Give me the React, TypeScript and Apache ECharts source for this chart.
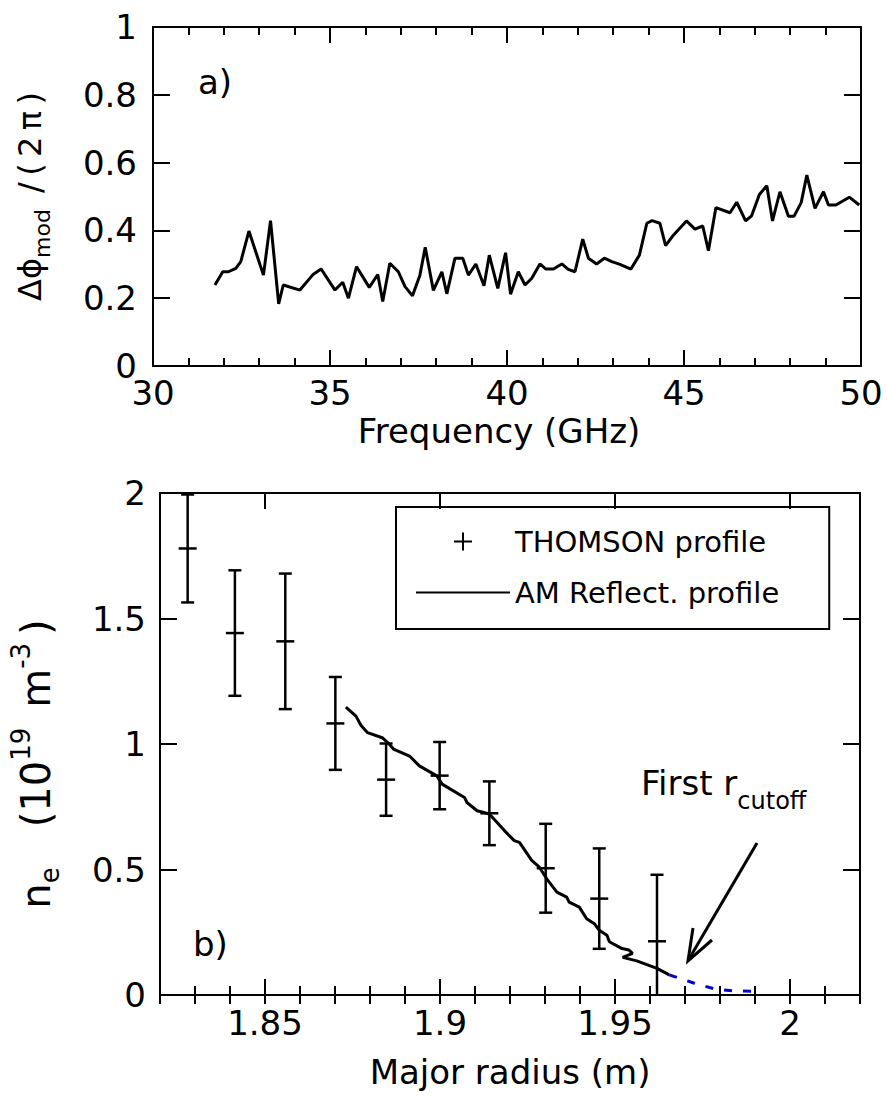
import React, { useEffect, useRef } from "react";
import * as echarts from "echarts";

// ---- Panel a) : modulated phase vs frequency ----
const freqGHz = [
  31.75, 31.97, 32.13, 32.34, 32.48, 32.71, 33.12, 33.32, 33.55, 33.68, 34.15, 34.53, 34.75,
  35.14, 35.36, 35.52, 35.75, 36.11, 36.35, 36.49, 36.69, 36.93, 37.12, 37.33, 37.54, 37.69,
  37.92, 38.16, 38.3, 38.53, 38.75, 38.91, 39.12, 39.35, 39.5, 39.74, 39.96, 40.1, 40.32,
  40.51, 40.7, 40.93, 41.1, 41.31, 41.55, 41.73, 41.92, 42.14, 42.3, 42.53, 42.75, 42.96,
  43.19, 43.5, 43.74, 43.95, 44.1, 44.32, 44.48, 44.7, 45.07, 45.31, 45.53, 45.69, 45.9,
  46.3, 46.49, 46.74, 46.91, 47.13, 47.34, 47.5, 47.71, 47.95, 48.11, 48.31, 48.47, 48.7,
  48.94, 49.08, 49.29, 49.67, 49.95,
];
const phaseMod = [
  0.239, 0.278, 0.278, 0.288, 0.308, 0.398, 0.268, 0.429, 0.183, 0.239, 0.224, 0.271, 0.286,
  0.224, 0.247, 0.2, 0.293, 0.232, 0.27, 0.19, 0.303, 0.278, 0.234, 0.207, 0.268, 0.35,
  0.223, 0.278, 0.213, 0.318, 0.318, 0.268, 0.301, 0.237, 0.327, 0.229, 0.334, 0.212, 0.278,
  0.239, 0.259, 0.301, 0.286, 0.286, 0.301, 0.285, 0.278, 0.374, 0.318, 0.301, 0.318, 0.308,
  0.3, 0.286, 0.327, 0.421, 0.429, 0.421, 0.355, 0.386, 0.428, 0.404, 0.413, 0.34, 0.467,
  0.452, 0.483, 0.428, 0.443, 0.506, 0.532, 0.428, 0.514, 0.442, 0.442, 0.482, 0.563, 0.465,
  0.514, 0.475, 0.475, 0.498, 0.475,
];
const freqLabelTicks = [30, 35, 40, 45, 50];

// ---- Panel b) : density profiles ----
const thomsonR = [1.8279, 1.8414, 1.8558, 1.8701, 1.8846, 1.8999, 1.9141, 1.9302, 1.9455, 1.962];
const thomsonNe = [1.779, 1.442, 1.409, 1.082, 0.858, 0.874, 0.724, 0.505, 0.384, 0.214];
const thomsonErr = [0.215, 0.25, 0.27, 0.185, 0.144, 0.134, 0.127, 0.177, 0.2, 0.265];

const reflR = [
  1.8731, 1.876, 1.8774, 1.8793, 1.8835, 1.8854, 1.8867, 1.8913, 1.8941, 1.8991, 1.9006,
  1.907, 1.9077, 1.9106, 1.9141, 1.9184, 1.9212, 1.9227, 1.9262, 1.9284, 1.9305, 1.9334,
  1.9362, 1.9369, 1.9398, 1.9419, 1.9441, 1.9455, 1.9477, 1.9484, 1.952, 1.954, 1.955,
  1.9522, 1.9562, 1.962, 1.9655,
];
const reflNe = [
  1.147, 1.111, 1.075, 1.045, 1.025, 1.001, 0.98, 0.952, 0.913, 0.873, 0.84, 0.787, 0.767,
  0.734, 0.721, 0.655, 0.615, 0.608, 0.536, 0.509, 0.463, 0.41, 0.39, 0.37, 0.35, 0.304,
  0.284, 0.258, 0.238, 0.212, 0.185, 0.179, 0.166, 0.15, 0.136, 0.106, 0.08,
];
const cutoffR = [1.9655, 1.9725, 1.9785, 1.984, 1.991];
const cutoffNe = [0.08, 0.048, 0.024, 0.016, 0.015];
const radiusLabelTicks = [1.85, 1.9, 1.95, 2];
const radiusMinorTicks: number[] = [];
for (let i = 182; i <= 202; i++) radiusMinorTicks.push(i / 100);

const FONT = "'DejaVu Sans', 'Liberation Sans', sans-serif";
const BLACK = "#000";

const lineSt = { color: BLACK, width: 2 };

function baseAxis(extra: any) {
  return {
    type: "value",
    axisLine: { show: true, onZero: false, lineStyle: lineSt },
    splitLine: { show: false },
    minorSplitLine: { show: false },
    ...extra,
  };
}

export default function App() {
  const ref = useRef<HTMLDivElement>(null);

  useEffect(() => {
    if (!ref.current) return;
    const chart = echarts.init(ref.current, undefined, { renderer: "svg" });

    const labelStyle = { color: BLACK, fontSize: 34, fontFamily: FONT };

    const option: any = {
      animation: false,
      backgroundColor: "#fff",
      grid: [
        { left: 153, top: 27, width: 708, height: 339, containLabel: false },
        { left: 153, top: 493, width: 707, height: 502, containLabel: false },
      ],
      legend: {
        orient: "vertical",
        left: 396,
        top: 507,
        padding: [20, 50, 22, 20],
        borderColor: BLACK,
        borderWidth: 2,
        itemWidth: 94,
        itemHeight: 18,
        itemGap: 22,
        itemTextGap: 9,
        textStyle: { color: BLACK, fontSize: 29, fontFamily: FONT },
        data: [
          { name: "THOMSON profile", icon: "path://M0,8H18V10H0Z M8,0H10V18H8Z" },
          { name: "AM Reflect. profile", icon: "path://M0,0H94V2H0Z" },
        ],
      },
      xAxis: [
        baseAxis({
          gridIndex: 0,
          min: 30,
          max: 50,
          interval: 5,
          position: "bottom",
          axisTick: { show: true, inside: true, length: 16, lineStyle: lineSt },
          minorTick: { show: true, splitNumber: 5, length: 8, lineStyle: lineSt },
          axisLabel: { ...labelStyle, margin: 10, customValues: freqLabelTicks },
          name: "Frequency (GHz)",
          nameLocation: "middle",
          nameGap: 48,
          nameTextStyle: { ...labelStyle, padding: [0, 16, 0, 0] },
        }),
        baseAxis({
          gridIndex: 0,
          min: 30,
          max: 50,
          interval: 5,
          position: "top",
          axisTick: { show: true, inside: true, length: 16, lineStyle: lineSt },
          minorTick: { show: true, splitNumber: 5, length: 8, lineStyle: lineSt },
          axisLabel: { show: false },
        }),
        baseAxis({
          gridIndex: 1,
          min: 1.82,
          max: 2.02,
          position: "bottom",
          axisTick: { show: true, inside: true, length: 16, lineStyle: lineSt, customValues: radiusLabelTicks },
          axisLabel: { ...labelStyle, margin: 11, customValues: radiusLabelTicks },
          name: "Major radius (m)",
          nameLocation: "middle",
          nameGap: 60,
          nameTextStyle: { ...labelStyle },
        }),
        baseAxis({
          gridIndex: 1,
          min: 1.82,
          max: 2.02,
          position: "bottom",
          axisLine: { show: false },
          axisTick: { show: true, inside: true, length: 9, lineStyle: lineSt, customValues: radiusMinorTicks },
          axisLabel: { show: false },
        }),
        baseAxis({
          gridIndex: 1,
          min: 1.82,
          max: 2.02,
          position: "top",
          axisTick: { show: true, inside: true, length: 16, lineStyle: lineSt, customValues: radiusLabelTicks },
          axisLabel: { show: false },
        }),
        baseAxis({
          gridIndex: 1,
          min: 1.82,
          max: 2.02,
          position: "top",
          axisLine: { show: false },
          axisTick: { show: true, inside: true, length: 9, lineStyle: lineSt, customValues: radiusMinorTicks },
          axisLabel: { show: false },
        }),
      ],
      yAxis: [
        baseAxis({
          gridIndex: 0,
          min: 0,
          max: 1,
          interval: 0.2,
          position: "left",
          axisTick: { show: true, inside: true, length: 17, lineStyle: lineSt },
          axisLabel: { ...labelStyle, margin: 16 },
          name: "Δϕ{sub|mod}\u2002/\u2009(\u20092\u2009π\u2009)",
          nameLocation: "middle",
          nameRotate: 90,
          nameGap: 100,
          nameTextStyle: {
            ...labelStyle,
            fontSize: 32,
            rich: {
              sub: { fontSize: 22, fontFamily: FONT, color: BLACK, padding: [24, 0, 0, 0] },
            },
          },
        }),
        baseAxis({
          gridIndex: 0,
          min: 0,
          max: 1,
          interval: 0.2,
          position: "right",
          axisTick: { show: true, inside: true, length: 17, lineStyle: lineSt },
          axisLabel: { show: false },
        }),
        baseAxis({
          gridIndex: 1,
          min: 0,
          max: 2,
          interval: 0.5,
          position: "left",
          axisTick: { show: true, inside: true, length: 17, lineStyle: lineSt },
          axisLabel: { ...labelStyle, margin: 14 },
          name: "n{sub|e}\u2003(10{sup|19}\u2002m{sup|-3}\u2009)",
          nameLocation: "middle",
          nameRotate: 90,
          nameGap: 96,
          nameTextStyle: {
            ...labelStyle,
            fontSize: 40,
            padding: [0, 40, 0, 0],
            rich: {
              sub: { fontSize: 26, fontFamily: FONT, color: BLACK, padding: [28, 0, 0, 0] },
              sup: { fontSize: 26, fontFamily: FONT, color: BLACK, padding: [0, 0, 30, 0] },
            },
          },
        }),
        baseAxis({
          gridIndex: 1,
          min: 0,
          max: 2,
          interval: 0.5,
          position: "right",
          axisTick: { show: true, inside: true, length: 17, lineStyle: lineSt },
          axisLabel: { show: false },
        }),
      ],
      series: [
        {
          name: "phase",
          type: "line",
          xAxisIndex: 0,
          yAxisIndex: 0,
          symbol: "none",
          lineStyle: { color: BLACK, width: 3 },
          data: freqGHz.map((f, i) => [f, phaseMod[i]]),
        },
        {
          name: "THOMSON profile",
          type: "custom",
          xAxisIndex: 2,
          yAxisIndex: 2,
          itemStyle: { color: BLACK },
          data: thomsonR.map((r, i) => [r, thomsonNe[i], thomsonErr[i]]),
          renderItem: (params: any, api: any) => {
            const x = api.value(0);
            const y = api.value(1);
            const e = api.value(2);
            const hi = Math.min(y + e, 2);
            const lo = Math.max(y - e, 0);
            const pc = api.coord([x, y]);
            const pt = api.coord([x, hi]);
            const pb = api.coord([x, lo]);
            const st = { stroke: BLACK, lineWidth: 2.5 };
            const children: any[] = [
              { type: "line", shape: { x1: pc[0], y1: pt[1], x2: pc[0], y2: pb[1] }, style: st },
              { type: "line", shape: { x1: pc[0] - 9, y1: pc[1], x2: pc[0] + 9, y2: pc[1] }, style: st },
            ];
            if (y + e <= 2) children.push({ type: "line", shape: { x1: pc[0] - 6.5, y1: pt[1], x2: pc[0] + 6.5, y2: pt[1] }, style: st });
            if (y - e >= 0) children.push({ type: "line", shape: { x1: pc[0] - 6.5, y1: pb[1], x2: pc[0] + 6.5, y2: pb[1] }, style: st });
            return { type: "group", children };
          },
        },
        {
          name: "AM Reflect. profile",
          type: "line",
          xAxisIndex: 2,
          yAxisIndex: 2,
          symbol: "none",
          color: BLACK,
          lineStyle: { color: BLACK, width: 3 },
          data: reflR.map((r, i) => [r, reflNe[i]]),
        },
        {
          name: "cutoff",
          type: "line",
          xAxisIndex: 2,
          yAxisIndex: 2,
          symbol: "none",
          lineStyle: { color: "#0000cc", width: 3, type: [8, 11] },
          data: cutoffR.map((r, i) => [r, cutoffNe[i]]),
        },
      ],
      graphic: [
        {
          type: "text",
          x: 198,
          y: 82,
          style: { text: "a)", fontSize: 34, fontFamily: FONT, fill: BLACK, verticalAlign: "middle", align: "left" },
        },
        {
          type: "text",
          x: 193,
          y: 944,
          style: { text: "b)", fontSize: 34, fontFamily: FONT, fill: BLACK, verticalAlign: "middle", align: "left" },
        },
        {
          type: "text",
          x: 641,
          y: 783,
          style: {
            text: "First r{s|cutoff}",
            fontSize: 34,
            fontFamily: FONT,
            fill: BLACK,
            verticalAlign: "middle",
            align: "left",
            rich: { s: { fontSize: 24, fontFamily: FONT, fill: BLACK, padding: [36, 0, 0, 0] } },
          },
        },
        {
          type: "line",
          shape: { x1: 757, y1: 843, x2: 689, y2: 959 },
          style: { stroke: BLACK, lineWidth: 3 },
        },
        {
          type: "polyline",
          shape: { points: [[693, 928], [688, 961], [712, 940]] },
          style: { stroke: BLACK, lineWidth: 3, fill: null },
        },
      ],
    };

    chart.setOption(option);
    return () => chart.dispose();
  }, []);

  return (
    <div
      ref={ref}
      style={{ position: "absolute", left: 0, top: 0, width: 887, height: 1103, background: "#fff" }}
    />
  );
}
